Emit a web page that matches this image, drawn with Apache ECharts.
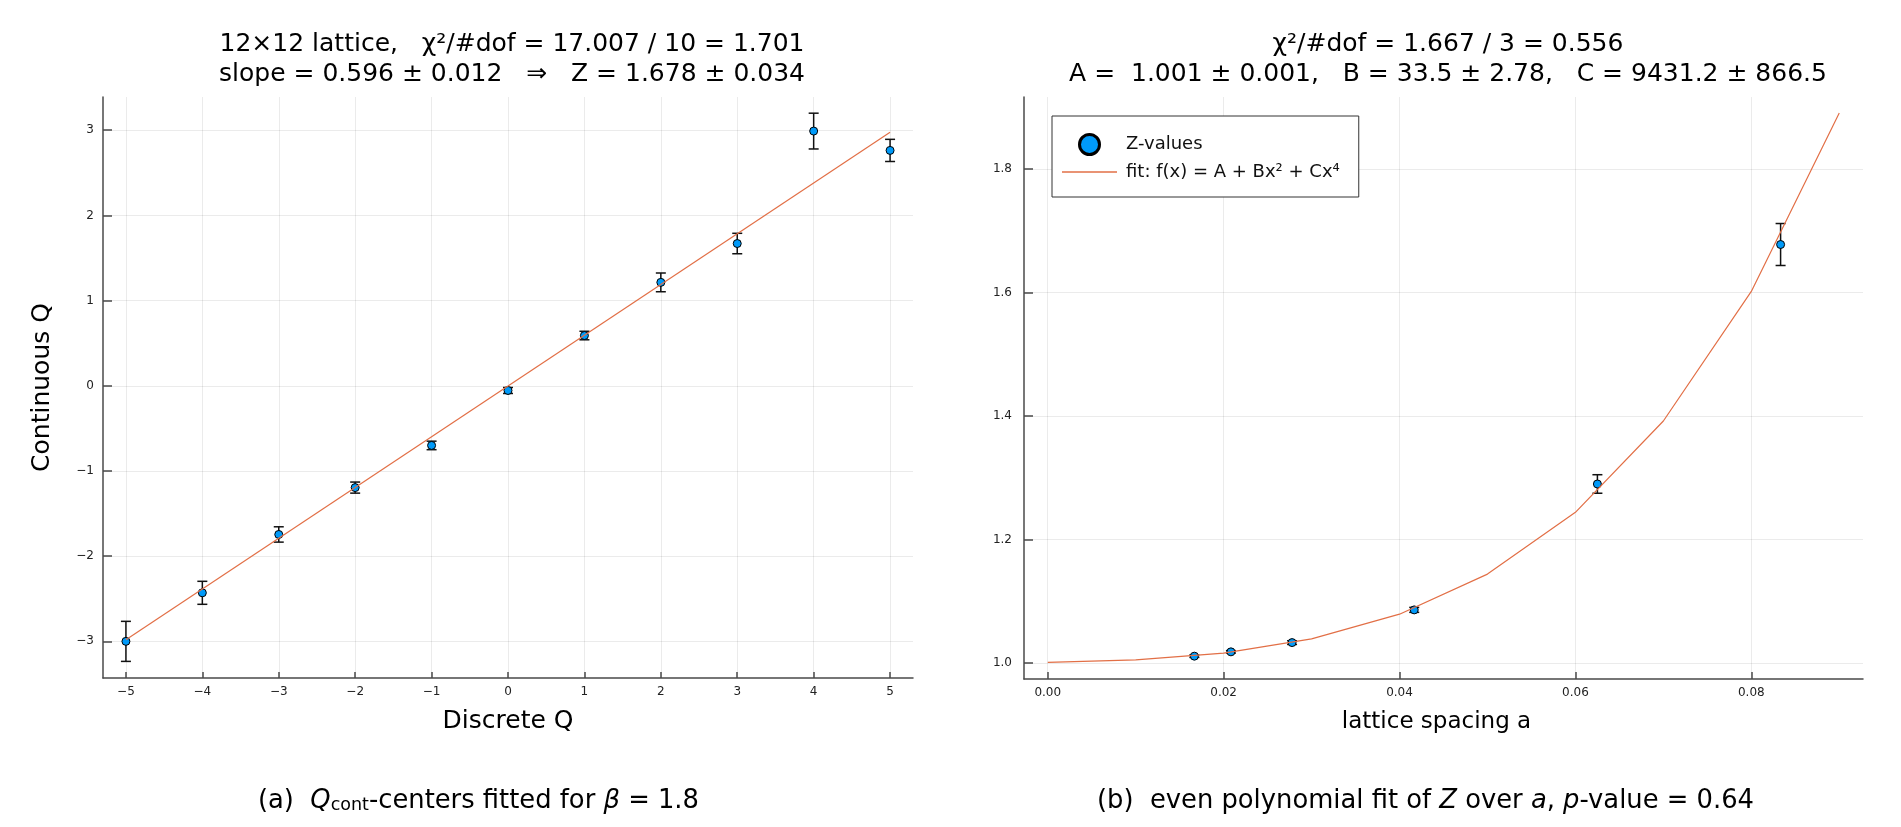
<!DOCTYPE html>
<html>
<head>
<meta charset="utf-8">
<script src="https://cdn.jsdelivr.net/npm/echarts@6/dist/echarts.min.js"></script>
<style>
html,body{margin:0;padding:0;background:#fff;}
#chart{width:1901px;height:827px;}
</style>
</head>
<body>
<div id="chart"></div>
<script>
// ---------- data ----------
// left panel: Q_cont centers vs discrete Q
const discreteQ   = [-5, -4, -3, -2, -1, 0, 1, 2, 3, 4, 5];
const contQ       = [-3.00, -2.43, -1.745, -1.195, -0.70, -0.055, 0.59, 1.214, 1.67, 2.99, 2.763];
const contQErr    = [0.235, 0.135, 0.09, 0.065, 0.05, 0.035, 0.05, 0.11, 0.12, 0.21, 0.13];
const fitLeftX    = [-5, 5];
const fitLeftY    = [-2.98, 2.975];
const xTicksLeft  = [-5, -4, -3, -2, -1, 0, 1, 2, 3, 4, 5];
const yTicksLeft  = [-3, -2, -1, 0, 1, 2, 3];

// right panel: Z over lattice spacing a
const latticeA    = [0.01667, 0.02083, 0.02778, 0.04167, 0.0625, 0.08333];
const zValues     = [1.011, 1.018, 1.033, 1.086, 1.290, 1.678];
const zErr        = [0.002, 0.002, 0.003, 0.004, 0.015, 0.034];
const fitRightX   = [0, 0.01, 0.02, 0.03, 0.04, 0.05, 0.06, 0.07, 0.08, 0.09];
const fitRightY   = [1.001, 1.005, 1.016, 1.039, 1.079, 1.144, 1.244, 1.392, 1.602, 1.891];
const xTicksRight = [0, 0.02, 0.04, 0.06, 0.08];
const yTicksRight = [1.0, 1.2, 1.4, 1.6, 1.8];

const titleLeft  = '12×12 lattice,   χ²/#dof = 17.007 / 10 = 1.701\nslope = 0.596 ± 0.012   ⇒   Z = 1.678 ± 0.034';
const titleRight = 'χ²/#dof = 1.667 / 3 = 0.556\nA =  1.001 ± 0.001,   B = 33.5 ± 2.78,   C = 9431.2 ± 866.5';
const legendNames = ['Z-values', 'fit: f(x) = A + Bx² + Cx⁴'];

// ---------- styles ----------
const FONT = "'DejaVu Sans', sans-serif";
const BLUE = '#009AF9';
const ORANGE = '#E26F46';
const AXIS_COLOR = '#4a4a4a';
const GRID_COLOR = 'rgba(0,0,0,0.08)';

function minusFmt(v){ return v < 0 ? '\u2212' + Math.abs(v) : String(v); }

function errRender(params, api){
  const x = api.value(0), lo = api.value(1), hi = api.value(2);
  const p1 = api.coord([x, lo]);
  const p2 = api.coord([x, hi]);
  const w = 5;
  const st = {stroke: '#111', lineWidth: 1.5};
  return {type: 'group', children: [
    {type: 'line', shape: {x1: p1[0], y1: p1[1], x2: p2[0], y2: p2[1]}, style: st},
    {type: 'line', shape: {x1: p1[0]-w, y1: p1[1], x2: p1[0]+w, y2: p1[1]}, style: st},
    {type: 'line', shape: {x1: p2[0]-w, y1: p2[1], x2: p2[0]+w, y2: p2[1]}, style: st}
  ]};
}

function axisCommon(extra){
  return Object.assign({
    type: 'value',
    axisLine: {show: true, onZero: false, lineStyle: {color: AXIS_COLOR, width: 1.5}},
    splitLine: {show: true, lineStyle: {color: GRID_COLOR, width: 1}},
    nameLocation: 'middle',
    nameTextStyle: {fontSize: 25, color: '#000', fontFamily: FONT}
  }, extra);
}

const option = {
  animation: false,
  backgroundColor: '#fff',
  textStyle: {fontFamily: FONT},
  title: [
    {text: titleLeft, left: 507, top: 24, textAlign: 'center',
     textStyle: {fontSize: 25, fontWeight: 'normal', color: '#000', lineHeight: 30, fontFamily: FONT}},
    {text: titleRight, left: 1443, top: 24, textAlign: 'center',
     textStyle: {fontSize: 25, fontWeight: 'normal', color: '#000', lineHeight: 30, fontFamily: FONT}}
  ],
  legend: {
    orient: 'vertical',
    left: 1052, top: 116,
    data: [
      {name: legendNames[0], itemStyle: {borderWidth: 3, borderColor: '#000'}},
      {name: legendNames[1], icon: 'path://M0,0L55,0L55,1.6L0,1.6Z'}
    ],
    itemWidth: 55, itemHeight: 20, itemGap: 7,
    padding: [17, 19, 16, 10],
    borderColor: '#333', borderWidth: 1, borderRadius: 0,
    backgroundColor: '#fff',
    textStyle: {fontSize: 18, color: '#111', fontFamily: FONT, padding: [0, 0, 0, 4]},
    selectedMode: false
  },
  grid: [
    {left: 103, top: 97, width: 810, height: 581},
    {left: 1024, top: 97, width: 839, height: 582}
  ],
  xAxis: [
    axisCommon({gridIndex: 0, min: -5.3, max: 5.3, name: 'Discrete Q', nameGap: 31,
      axisTick: {show: true, inside: true, length: 6, customValues: xTicksLeft, lineStyle: {color: AXIS_COLOR, width: 1.5}},
      axisLabel: {customValues: xTicksLeft, formatter: minusFmt, margin: 8, fontSize: 12, color: '#222'}}),
    axisCommon({gridIndex: 1, min: -0.0027, max: 0.0927, name: 'lattice spacing a', nameGap: 32,
      nameTextStyle: {fontSize: 23, color: '#000', fontFamily: FONT, padding: [0, 14, 0, 0]},
      axisTick: {show: true, inside: true, length: 7, customValues: xTicksRight, lineStyle: {color: AXIS_COLOR, width: 1.5}},
      axisLabel: {customValues: xTicksRight, formatter: v => v.toFixed(2), margin: 8, fontSize: 12, color: '#222'}})
  ],
  yAxis: [
    axisCommon({gridIndex: 0, min: -3.43, max: 3.39, name: 'Continuous Q', nameGap: 48,
      axisTick: {show: true, inside: true, length: 9, customValues: yTicksLeft, lineStyle: {color: AXIS_COLOR, width: 1.5}},
      axisLabel: {customValues: yTicksLeft, formatter: minusFmt, margin: 9, fontSize: 12, color: '#222'}}),
    axisCommon({gridIndex: 1, min: 0.974, max: 1.917,
      axisTick: {show: true, inside: true, length: 9, customValues: yTicksRight, lineStyle: {color: AXIS_COLOR, width: 1.5}},
      axisLabel: {customValues: yTicksRight, formatter: v => v.toFixed(1), margin: 12, fontSize: 12, color: '#222'}})
  ],
  series: [
    {type: 'custom', name: 'errLeft', xAxisIndex: 0, yAxisIndex: 0, z: 2,
     renderItem: errRender, encode: {x: 0, y: [1, 2]},
     data: discreteQ.map((x, i) => [x, contQ[i] - contQErr[i], contQ[i] + contQErr[i]])},
    {type: 'scatter', name: 'Qcont', xAxisIndex: 0, yAxisIndex: 0, z: 3, symbolSize: 8,
     itemStyle: {color: BLUE, borderColor: '#000', borderWidth: 1, opacity: 1},
     data: discreteQ.map((x, i) => [x, contQ[i]])},
    {type: 'line', name: 'fitLeft', xAxisIndex: 0, yAxisIndex: 0, z: 4, symbol: 'none',
     lineStyle: {color: ORANGE, width: 1.2}, itemStyle: {color: ORANGE},
     data: fitLeftX.map((x, i) => [x, fitLeftY[i]])},

    {type: 'custom', name: 'errRight', xAxisIndex: 1, yAxisIndex: 1, z: 2,
     renderItem: errRender, encode: {x: 0, y: [1, 2]},
     data: latticeA.map((x, i) => [x, zValues[i] - zErr[i], zValues[i] + zErr[i]])},
    {type: 'scatter', name: legendNames[0], xAxisIndex: 1, yAxisIndex: 1, z: 3, symbolSize: 8,
     itemStyle: {color: BLUE, borderColor: '#000', borderWidth: 1, opacity: 1},
     data: latticeA.map((x, i) => [x, zValues[i]])},
    {type: 'line', name: legendNames[1], xAxisIndex: 1, yAxisIndex: 1, z: 4, symbol: 'none',
     lineStyle: {color: ORANGE, width: 1.2}, itemStyle: {color: ORANGE},
     data: fitRightX.map((x, i) => [x, fitRightY[i]])}
  ],
  graphic: [
    {type: 'text', left: 258, top: 788, style: {
      text: '{n|(a)  }{i|Q}{s|cont}{n|-centers fitted for }{i|β}{n| = 1.8}',
      rich: {
        n: {fontSize: 25.8, fontFamily: FONT, color: '#000', lineHeight: 32, verticalAlign: 'bottom'},
        i: {fontSize: 25.8, fontFamily: FONT, fontStyle: 'italic', color: '#000', lineHeight: 32, verticalAlign: 'bottom'},
        s: {fontSize: 17.5, fontFamily: FONT, color: '#000', lineHeight: 25, verticalAlign: 'bottom'}
      }}},
    {type: 'text', left: 1097, top: 788, style: {
      text: '{n|(b)  even polynomial fit of }{i|Z}{n| over }{i|a}{n|, }{i|p}{n|-value = 0.64}',
      rich: {
        n: {fontSize: 25.8, fontFamily: FONT, color: '#000', lineHeight: 32},
        i: {fontSize: 25.8, fontFamily: FONT, fontStyle: 'italic', color: '#000', lineHeight: 32}
      }}}
  ]
};

const chart = echarts.init(document.getElementById('chart'), null, {renderer: 'canvas'});
chart.setOption(option);
</script>
</body>
</html>
